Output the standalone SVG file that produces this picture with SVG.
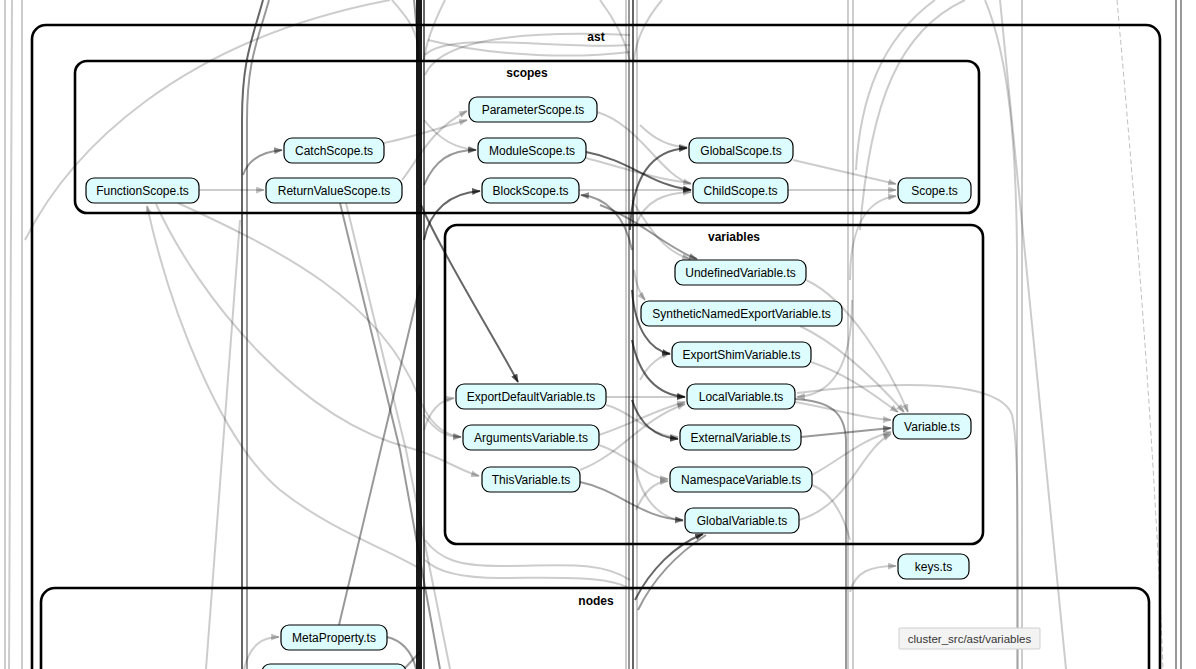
<svg xmlns="http://www.w3.org/2000/svg" width="1196" height="669" viewBox="0 0 1196 669">
<style>
.cl{fill:none;stroke:#000;stroke-width:2.6}
.ct{font-family:"Liberation Sans",Arial,sans-serif;font-size:12px;font-weight:bold;fill:#000}
.n rect{fill:#ddfcfd;stroke:#000;stroke-width:1.2}
.n text{font-family:"Liberation Sans",Arial,sans-serif;font-size:12px;fill:#000;text-anchor:middle}
.l{fill:none;stroke:#000;stroke-opacity:.2;stroke-width:2}
.m{fill:none;stroke:#000;stroke-opacity:.4;stroke-width:2}
.d{fill:none;stroke:#000;stroke-opacity:.6;stroke-width:2}
.la{marker-end:url(#ml)}
.ma{marker-end:url(#mm)}
.da{marker-end:url(#md)}
</style>
<defs>
<marker id="ml" viewBox="0 0 10 8" refX="9" refY="4" markerWidth="9" markerHeight="7" orient="auto" markerUnits="userSpaceOnUse"><path d="M0,0 L10,4 L0,8 z" fill="#000" fill-opacity=".25"/></marker>
<marker id="mm" viewBox="0 0 10 8" refX="9" refY="4" markerWidth="9" markerHeight="7" orient="auto" markerUnits="userSpaceOnUse"><path d="M0,0 L10,4 L0,8 z" fill="#000" fill-opacity=".45"/></marker>
<marker id="md" viewBox="0 0 10 8" refX="9" refY="4" markerWidth="9" markerHeight="7" orient="auto" markerUnits="userSpaceOnUse"><path d="M0,0 L10,4 L0,8 z" fill="#000" fill-opacity=".65"/></marker>
</defs>
<rect width="1196" height="669" fill="#fff"/>
<g id="clusters">
<rect class="cl" x="32" y="25" width="1128" height="720" rx="14"/>
<text class="ct" x="596" y="41" text-anchor="middle">ast</text>
<rect class="cl" x="75" y="61" width="904" height="152" rx="12"/>
<text class="ct" x="527" y="77" text-anchor="middle">scopes</text>
<rect class="cl" x="445" y="225" width="538" height="319" rx="12"/>
<text class="ct" x="734" y="241" text-anchor="middle">variables</text>
<rect class="cl" x="41" y="588" width="1108" height="200" rx="14"/>
<text class="ct" x="596" y="605" text-anchor="middle">nodes</text>
</g>
<g id="edges">
<path class="l" d="M5,0 V669"/>
<path class="l" d="M12,0 L9,669"/>
<path class="l" d="M22,0 V669"/>
<path class="l" d="M25,240 C70,150 180,40 390,0"/>
<path class="l" d="M240,220 L206,669"/>
<path class="d" d="M263,0 C252,40 242,60 242,120 V669"/>
<path class="m" d="M269,0 C258,40 247,60 247,120 V669"/>
<path d="M419,0 V669" stroke="#000" stroke-width="6" stroke-opacity=".9"/>
<path class="d" d="M424,0 V669"/>
<path class="m" d="M414,0 C416,20 418,40 418,60"/>
<path class="l" d="M392,0 C405,15 414,25 418,45"/>
<path class="l" d="M445,0 C435,20 426,40 424,60"/>
<path class="l" d="M425,75 C440,40 520,30 630,35"/>
<path class="l" d="M425,55 C450,30 560,50 630,45"/>
<path class="l" d="M428,40 C500,58 580,58 630,52"/>
<path class="l" d="M600,0 C615,20 625,40 630,60"/>
<path class="l" d="M662,0 C645,20 636,40 634,60"/>
<path class="m" d="M629,0 V669"/>
<path class="d" d="M633,0 V669"/>
<path class="l" d="M637,0 V669"/>
<path class="l" d="M626,0 V669"/>
<path class="l" d="M848,0 V669"/>
<path class="l" d="M853,0 V669"/>
<path class="l" d="M856,170 C860,100 880,40 935,0"/>
<path class="l" d="M860,230 C870,100 900,30 965,0"/>
<path class="l" d="M985,0 C1010,60 1016,150 1017,250 V669"/>
<path class="l" d="M1000,0 C1020,200 1040,400 1066,669"/>
<path class="l" d="M1022,0 V669"/>
<path d="M1117,0 C1135,200 1155,450 1163,669" fill="none" stroke="#000" stroke-opacity=".25" stroke-width="1" stroke-dasharray="5,3"/>
<path class="m" d="M1176,0 V669"/>
<path class="m" d="M1181,0 V669"/>
<path class="l la" d="M199,190 L264,190"/>
<path class="l la" d="M384,143 C410,138 440,128 467,120"/>
<path class="l la" d="M402,180 C418,160 430,130 467,111"/>
<path class="m ma" d="M243,175 C248,160 260,152 282,150"/>
<path class="l la" d="M424,120 C440,140 455,148 476,150"/>
<path class="m ma" d="M424,185 C435,160 450,150 476,150"/>
<path class="d da" d="M424,240 C430,210 450,193 480,191"/>
<path class="m ma" d="M632,250 C625,215 605,197 581,195"/>
<path class="l la" d="M579,190 L691,190"/>
<path class="l la" d="M597,112 C640,125 660,175 691,184"/>
<path class="d da" d="M586,152 C630,160 650,185 691,190"/>
<path class="l" d="M586,158 C630,170 660,180 691,183"/>
<path class="d da" d="M630,230 C632,180 650,150 687,148"/>
<path class="l la" d="M640,125 C655,140 670,147 687,147"/>
<path class="l la" d="M636,225 C645,200 665,193 691,192"/>
<path class="l la" d="M793,160 L896,184"/>
<path class="l la" d="M788,190 L896,190"/>
<path class="l la" d="M850,280 C850,230 865,200 896,196"/>
<path class="l la" d="M422,570 C390,550 330,530 280,490 C220,440 170,310 147,206"/>
<path class="l la" d="M156,204 C200,300 300,420 410,448 C440,456 458,470 479,476"/>
<path class="l la" d="M178,203 C280,250 380,300 418,395 C428,422 442,435 461,437"/>
<path class="m" d="M340,203 L400,450 L440,669"/>
<path class="l" d="M346,203 L406,450 L450,669"/>
<path class="m" d="M339,625 L383,440 L420,285"/>
<path class="d da" d="M421,205 C440,250 490,330 518,382"/>
<path class="l la" d="M424,430 C430,410 440,400 454,398"/>
<path class="l la" d="M424,415 C435,430 445,437 461,437"/>
<path class="l la" d="M632,200 C650,230 665,252 690,259"/>
<path class="m ma" d="M600,205 C640,220 670,250 697,259"/>
<path class="l la" d="M634,270 C636,285 640,294 645,300"/>
<path class="d da" d="M632,290 C635,330 650,350 670,354"/>
<path class="l la" d="M640,380 C648,365 660,356 670,353"/>
<path class="d da" d="M632,340 C640,380 660,395 685,397"/>
<path class="l la" d="M606,397 L685,397"/>
<path class="l la" d="M599,435 C630,425 655,410 685,402"/>
<path class="l la" d="M580,470 C620,455 640,420 685,404"/>
<path class="l la" d="M606,405 C630,410 650,437 678,437"/>
<path class="d da" d="M632,400 C640,425 655,437 678,439"/>
<path class="l la" d="M599,445 C630,455 645,478 668,479"/>
<path class="l la" d="M636,510 C645,490 655,482 668,481"/>
<path class="m ma" d="M580,482 C620,490 640,518 683,520"/>
<path class="l la" d="M634,460 C640,500 660,518 683,521"/>
<path class="d da" d="M635,600 C650,570 675,545 703,534"/>
<path class="m" d="M638,610 C655,575 680,552 706,535"/>
<path class="l la" d="M806,280 C850,300 890,370 908,412"/>
<path class="l la" d="M800,326 C840,345 880,385 904,412"/>
<path class="l la" d="M811,362 C850,375 880,400 898,412"/>
<path class="l la" d="M795,402 C840,410 860,418 891,420"/>
<path class="m ma" d="M801,437 L891,428"/>
<path class="l la" d="M812,475 C840,460 860,440 891,432"/>
<path class="l" d="M812,485 C830,492 842,510 850,540"/>
<path class="l la" d="M799,520 C850,505 860,450 891,434"/>
<path class="l la" d="M852,300 C852,370 830,395 797,397"/>
<path class="l" d="M797,393 C900,380 1000,380 1012,415 C1018,440 1018,500 1018,669"/>
<path class="m" d="M795,399 C830,401 845,412 846,440 V669"/>
<path class="l la" d="M850,592 C855,572 870,566 896,566"/>
<path class="l" d="M425,540 C440,560 460,566 500,566 C560,566 600,560 630,580"/>
<path class="l" d="M425,560 C440,575 470,578 500,578 C560,578 610,575 632,590"/>
<path class="l la" d="M244,669 C250,645 262,637 279,637"/>
<path class="m" d="M387,637 C400,640 412,650 416,669"/>
<path class="m" d="M405,668 L420,652"/>
</g>
<g id="n-ParameterScope" class="n"><rect x="469" y="97" width="128" height="25" rx="8"/><text x="533" y="114">ParameterScope.ts</text></g>
<g id="n-ModuleScope" class="n"><rect x="478" y="138" width="108" height="25" rx="8"/><text x="532" y="155">ModuleScope.ts</text></g>
<g id="n-BlockScope" class="n"><rect x="482" y="178" width="97" height="25" rx="8"/><text x="530.5" y="195">BlockScope.ts</text></g>
<g id="n-CatchScope" class="n"><rect x="284" y="138" width="100" height="25" rx="8"/><text x="334" y="155">CatchScope.ts</text></g>
<g id="n-ReturnValueScope" class="n"><rect x="266" y="178" width="136" height="25" rx="8"/><text x="334" y="195">ReturnValueScope.ts</text></g>
<g id="n-FunctionScope" class="n"><rect x="86" y="178" width="113" height="25" rx="8"/><text x="142.5" y="195">FunctionScope.ts</text></g>
<g id="n-GlobalScope" class="n"><rect x="689" y="138" width="104" height="25" rx="8"/><text x="741" y="155">GlobalScope.ts</text></g>
<g id="n-ChildScope" class="n"><rect x="693" y="178" width="95" height="25" rx="8"/><text x="740.5" y="195">ChildScope.ts</text></g>
<g id="n-Scope" class="n"><rect x="898" y="178" width="73" height="25" rx="8"/><text x="934.5" y="195">Scope.ts</text></g>
<g id="n-UndefinedVariable" class="n"><rect x="675" y="260" width="131" height="25" rx="8"/><text x="740.5" y="277">UndefinedVariable.ts</text></g>
<g id="n-SyntheticNamedExportVariable" class="n"><rect x="641" y="301" width="201" height="25" rx="8"/><text x="741.5" y="318">SyntheticNamedExportVariable.ts</text></g>
<g id="n-ExportShimVariable" class="n"><rect x="672" y="342" width="139" height="25" rx="8"/><text x="741.5" y="359">ExportShimVariable.ts</text></g>
<g id="n-LocalVariable" class="n"><rect x="687" y="384" width="108" height="25" rx="8"/><text x="741" y="401">LocalVariable.ts</text></g>
<g id="n-ExternalVariable" class="n"><rect x="680" y="425" width="121" height="25" rx="8"/><text x="740.5" y="442">ExternalVariable.ts</text></g>
<g id="n-NamespaceVariable" class="n"><rect x="670" y="467" width="142" height="25" rx="8"/><text x="741" y="484">NamespaceVariable.ts</text></g>
<g id="n-GlobalVariable" class="n"><rect x="685" y="508" width="114" height="25" rx="8"/><text x="742" y="525">GlobalVariable.ts</text></g>
<g id="n-ExportDefaultVariable" class="n"><rect x="456" y="384" width="150" height="25" rx="8"/><text x="531" y="401">ExportDefaultVariable.ts</text></g>
<g id="n-ArgumentsVariable" class="n"><rect x="463" y="425" width="136" height="25" rx="8"/><text x="531" y="442">ArgumentsVariable.ts</text></g>
<g id="n-ThisVariable" class="n"><rect x="482" y="467" width="98" height="25" rx="8"/><text x="531" y="484">ThisVariable.ts</text></g>
<g id="n-Variable" class="n"><rect x="893" y="414" width="78" height="25" rx="8"/><text x="932" y="431">Variable.ts</text></g>
<g id="n-keys" class="n"><rect x="898" y="554" width="71" height="25" rx="8"/><text x="933.5" y="571">keys.ts</text></g>
<g id="n-MetaProperty" class="n"><rect x="281" y="625" width="106" height="25" rx="8"/><text x="334" y="642">MetaProperty.ts</text></g>
<g id="n-bottom" class="n"><rect x="262" y="664" width="144" height="25" rx="8"/></g>
<g id="tooltip">
<rect x="899" y="628" width="141" height="21" fill="#f3f3f3" stroke="#cfcfcf" stroke-width="1" rx="1"/>
<text x="969.5" y="643" font-family="'Liberation Sans',Arial,sans-serif" font-size="11.5" fill="#333" text-anchor="middle">cluster_src/ast/variables</text>
</g>
</svg>
